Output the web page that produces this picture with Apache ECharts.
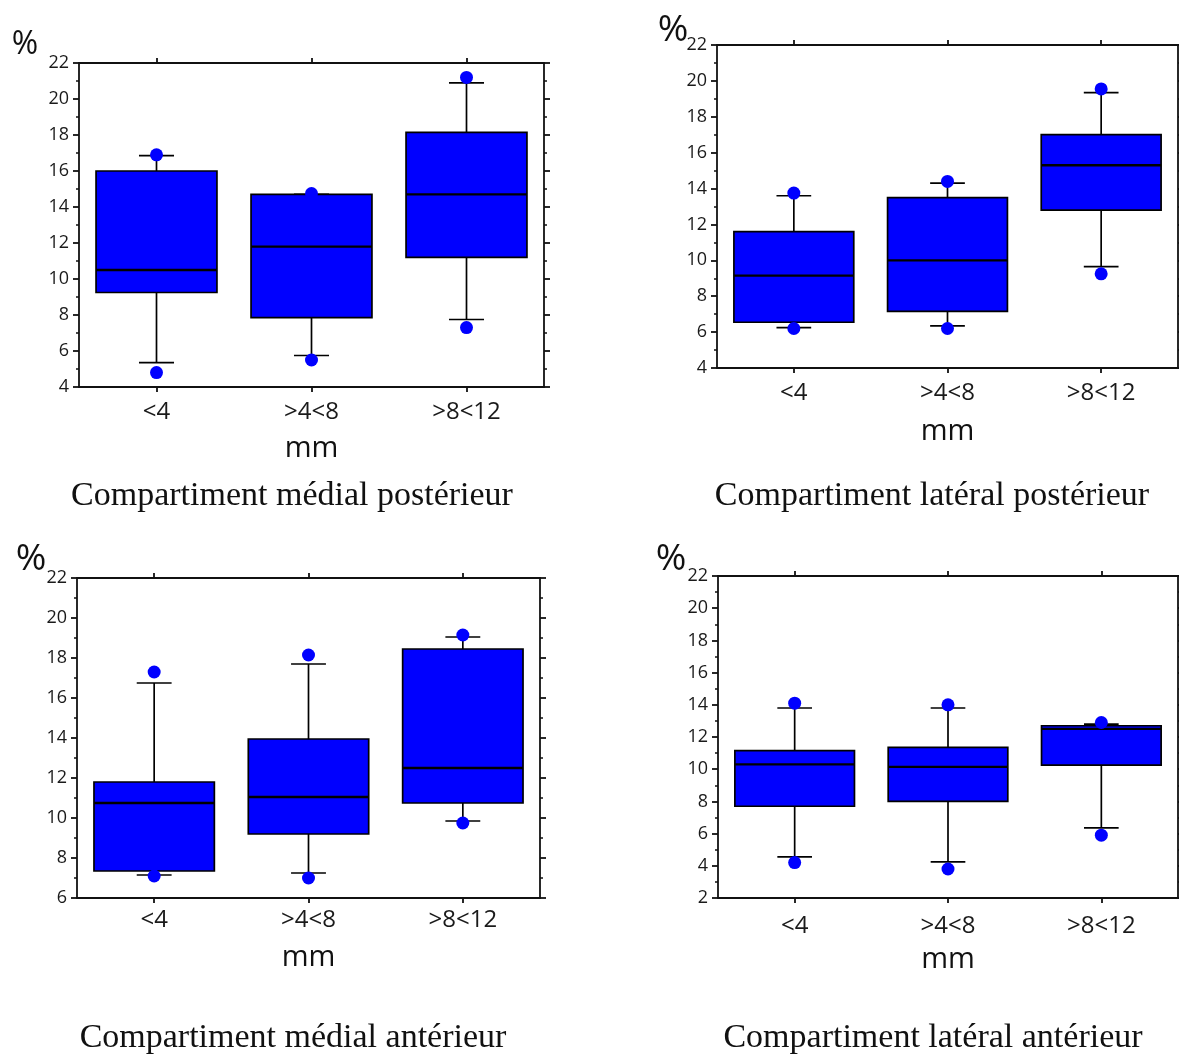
<!DOCTYPE html>
<html>
<head>
<meta charset="utf-8">
<script src="https://cdn.jsdelivr.net/npm/echarts@6/dist/echarts.min.js"></script>
<style>
html,body{margin:0;padding:0;background:#fff;}
#chart{width:1179px;height:1055px;}
</style>
</head>
<body>
<div id="chart"></div>
<script>
// ---------- DATA ----------
const categories = ['<4', '>4<8', '>8<12'];
const panelTitles = [
  'Compartiment médial postérieur',
  'Compartiment latéral postérieur',
  'Compartiment médial antérieur',
  'Compartiment latéral antérieur'
];
const yMins = [4, 4, 6, 2];
const yMax = 22;
const yInterval = 2;

// Compartiment médial postérieur
const mpWhiskerLow  = [5.35, 5.75, 7.75];
const mpQ1          = [9.25, 7.85, 11.2];
const mpMedian      = [10.5, 11.8, 14.7];
const mpQ3          = [16.0, 14.7, 18.15];
const mpWhiskerHigh = [16.85, 14.7, 20.9];
const mpPointsLow   = [4.8, 5.5, 7.3];
const mpPointsHigh  = [16.9, 14.75, 21.2];

// Compartiment latéral postérieur
const lpWhiskerLow  = [6.25, 6.35, 9.65];
const lpQ1          = [6.55, 7.15, 12.8];
const lpMedian      = [9.15, 10.0, 15.3];
const lpQ3          = [11.6, 13.5, 17.0];
const lpWhiskerHigh = [13.6, 14.3, 19.35];
const lpPointsLow   = [6.2, 6.2, 9.25];
const lpPointsHigh  = [13.75, 14.4, 19.55];

// Compartiment médial antérieur
const maWhiskerLow  = [7.15, 7.25, 9.85];
const maQ1          = [7.35, 9.2, 10.75];
const maMedian      = [10.75, 11.05, 12.5];
const maQ3          = [11.8, 13.95, 18.45];
const maWhiskerHigh = [16.75, 17.7, 19.05];
const maPointsLow   = [7.1, 7.0, 9.75];
const maPointsHigh  = [17.3, 18.15, 19.15];

// Compartiment latéral antérieur
const laWhiskerLow  = [4.55, 4.25, 6.35];
const laQ1          = [7.7, 8.0, 10.25];
const laMedian      = [10.3, 10.15, 12.5];
const laQ3          = [11.15, 11.35, 12.7];
const laWhiskerHigh = [13.8, 13.8, 12.8];
const laPointsLow   = [4.2, 3.8, 5.9];
const laPointsHigh  = [14.1, 14.0, 12.9];

// ---------- BUILD ----------
const panels = [
  [mpWhiskerLow, mpQ1, mpMedian, mpQ3, mpWhiskerHigh, mpPointsLow, mpPointsHigh],
  [lpWhiskerLow, lpQ1, lpMedian, lpQ3, lpWhiskerHigh, lpPointsLow, lpPointsHigh],
  [maWhiskerLow, maQ1, maMedian, maQ3, maWhiskerHigh, maPointsLow, maPointsHigh],
  [laWhiskerLow, laQ1, laMedian, laQ3, laWhiskerHigh, laPointsLow, laPointsHigh]
];

const gridBoxes = [
  {left: 79, top: 63, width: 465, height: 324},
  {left: 717, top: 45, width: 461, height: 323},
  {left: 77, top: 578, width: 463, height: 320},
  {left: 718, top: 576, width: 460, height: 322}
];
const catLabelMargins = [13, 13, 10, 16];
const nameGaps = [47, 49, 45, 47];
const titlePos = [[292, 496], [932, 496], [293, 1038], [933, 1038]];
const pctPos = [[25, 45, 32], [673, 30, 37], [31, 559, 37], [671, 559, 37]];

const AXIS_COLOR = '#111111';
const LABEL_COLOR = '#1a1a1a';
const BLUE = '#0000ff';

function renderBox(params, api) {
  const xi = api.value(0);
  const low = api.coord([xi, api.value(1)]);
  const q1 = api.coord([xi, api.value(2)]);
  const med = api.coord([xi, api.value(3)]);
  const q3 = api.coord([xi, api.value(4)]);
  const high = api.coord([xi, api.value(5)]);
  const band = api.size([1, 0])[0];
  const hw = band * 0.39;
  const cw = band * 0.113;
  const cx = q1[0];
  const ls = {stroke: '#000', lineWidth: 1.7};
  return {
    type: 'group',
    children: [
      {type: 'line', shape: {x1: cx, y1: q1[1], x2: cx, y2: low[1]}, style: ls},
      {type: 'line', shape: {x1: cx - cw, y1: low[1], x2: cx + cw, y2: low[1]}, style: ls},
      {type: 'line', shape: {x1: cx, y1: q3[1], x2: cx, y2: high[1]}, style: ls},
      {type: 'line', shape: {x1: cx - cw, y1: high[1], x2: cx + cw, y2: high[1]}, style: ls},
      {type: 'rect', shape: {x: cx - hw, y: q3[1], width: 2 * hw, height: q1[1] - q3[1]},
       style: {fill: BLUE, stroke: '#000', lineWidth: 1.7}},
      {type: 'line', shape: {x1: cx - hw, y1: med[1], x2: cx + hw, y2: med[1]},
       style: {stroke: '#000', lineWidth: 2.3}}
    ]
  };
}

const grid = [], xAxis = [], yAxis = [], series = [], graphic = [];

panels.forEach((p, i) => {
  grid.push(Object.assign({containLabel: false}, gridBoxes[i]));
  const lineStyle = {color: AXIS_COLOR, width: 1.8};
  // bottom x axis
  xAxis.push({
    type: 'category', gridIndex: i, data: categories, position: 'bottom',
    boundaryGap: true,
    axisLine: {show: true, lineStyle},
    axisTick: {show: true, alignWithLabel: true, length: 5, lineStyle},
    axisLabel: {fontSize: 24, color: LABEL_COLOR, fontFamily: 'Open Sans', margin: catLabelMargins[i]},
    splitLine: {show: false},
    name: 'mm', nameLocation: 'middle', nameGap: nameGaps[i],
    nameTextStyle: {fontSize: 29, color: '#111', fontFamily: 'Open Sans'}
  });
  // top x axis
  xAxis.push({
    type: 'category', gridIndex: i, data: categories, position: 'top',
    boundaryGap: true,
    axisLine: {show: true, lineStyle},
    axisTick: {show: true, alignWithLabel: true, length: 5, lineStyle},
    axisLabel: {show: false},
    splitLine: {show: false}
  });
  // left y axis
  yAxis.push({
    type: 'value', gridIndex: i, min: yMins[i], max: yMax, interval: yInterval, position: 'left',
    axisLine: {show: true, lineStyle},
    axisTick: {show: true, length: 6, lineStyle},
    minorTick: {show: true, splitNumber: 2, length: 3, lineStyle: {color: AXIS_COLOR, width: 1.5}},
    axisLabel: {fontSize: 18, color: LABEL_COLOR, fontFamily: 'Open Sans', margin: 10},
    splitLine: {show: false}, minorSplitLine: {show: false}
  });
  // right y axis
  yAxis.push({
    type: 'value', gridIndex: i, min: yMins[i], max: yMax, interval: yInterval, position: 'right',
    axisLine: {show: true, lineStyle},
    axisTick: {show: true, length: 6, lineStyle},
    minorTick: {show: true, splitNumber: 2, length: 3, lineStyle: {color: AXIS_COLOR, width: 1.5}},
    axisLabel: {show: false},
    splitLine: {show: false}, minorSplitLine: {show: false}
  });

  const boxData = categories.map((c, k) => [k, p[0][k], p[1][k], p[2][k], p[3][k], p[4][k]]);
  series.push({
    type: 'custom', xAxisIndex: 2 * i, yAxisIndex: 2 * i,
    renderItem: renderBox,
    encode: {x: 0, y: [1, 2, 3, 4, 5]},
    data: boxData, z: 2, silent: true
  });
  const pts = [];
  categories.forEach((c, k) => { pts.push([k, p[5][k]]); pts.push([k, p[6][k]]); });
  series.push({
    type: 'scatter', xAxisIndex: 2 * i, yAxisIndex: 2 * i,
    data: pts, symbol: 'circle', symbolSize: 13,
    itemStyle: {color: BLUE, opacity: 1}, z: 5, silent: true
  });

  graphic.push({
    type: 'text', x: titlePos[i][0], y: titlePos[i][1],
    style: {text: panelTitles[i], font: '34px "Liberation Serif"', fill: '#111',
            textAlign: 'center', textVerticalAlign: 'middle'}
  });
  graphic.push({
    type: 'text', x: pctPos[i][0], y: pctPos[i][1],
    style: {text: '%', font: pctPos[i][2] + 'px "Open Sans"', fill: '#111',
            textAlign: 'center', textVerticalAlign: 'middle'}
  });
});

const chart = echarts.init(document.getElementById('chart'), null, {renderer: 'canvas'});
chart.setOption({
  animation: false,
  backgroundColor: '#ffffff',
  grid, xAxis, yAxis, series, graphic
});
</script>
</body>
</html>
